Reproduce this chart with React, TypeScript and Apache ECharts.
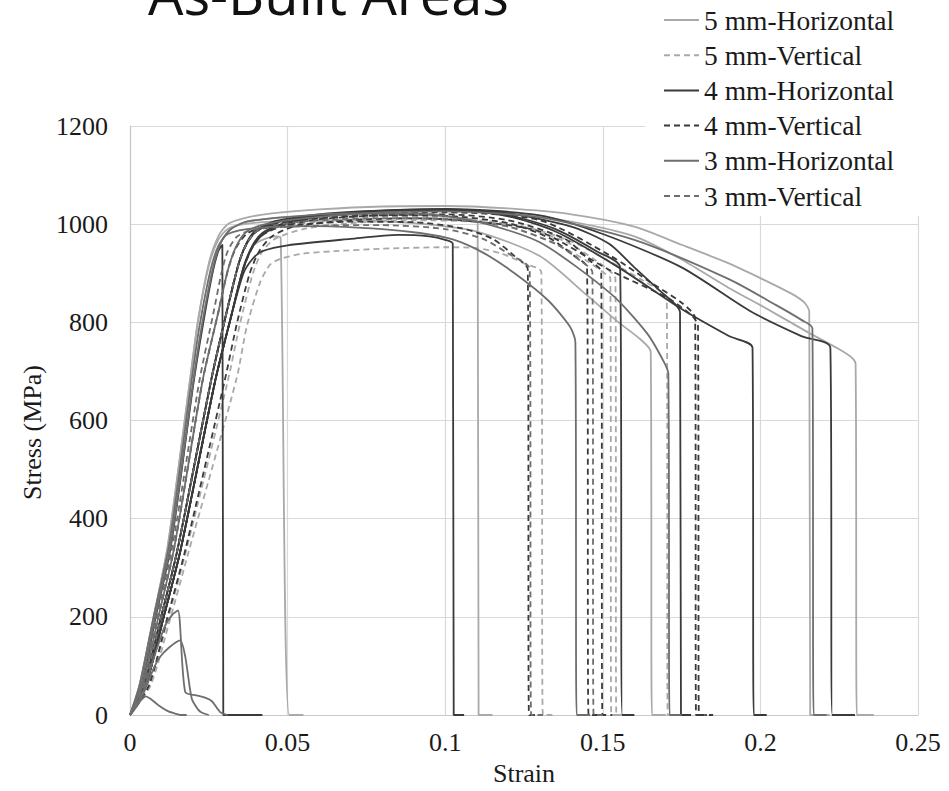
import React, { useEffect, useRef } from "react";
import * as echarts from "echarts";

// ---------- data (strain, stress MPa) ----------
const groupNames = [
  "5 mm-Horizontal",
  "5 mm-Vertical",
  "4 mm-Horizontal",
  "4 mm-Vertical",
  "3 mm-Horizontal",
  "3 mm-Vertical",
];
const xTickValues = [0, 0.05, 0.1, 0.15, 0.2, 0.25];
const yTickValues = [0, 200, 400, 600, 800, 1000, 1200];

// 5 mm-Horizontal
const h5a = [[0,0],[0.003,60],[0.0075,200],[0.012,345],[0.019,680],[0.0215,800],[0.025,920],[0.028,975],[0.031,1000],[0.036,1012],[0.045,1022],[0.06,1030],[0.08,1036],[0.1,1037],[0.12,1032],[0.14,1020],[0.16,995],[0.175,958],[0.19,920],[0.2,890],[0.21,858],[0.214,840],[0.2155,822],[0.2158,0],[0.222,0]];
const h5b = [[0,0],[0.0045,60],[0.0095,190],[0.015,335],[0.026,690],[0.031,830],[0.0345,920],[0.037,960],[0.04,985],[0.046,1003],[0.06,1018],[0.08,1026],[0.1,1028],[0.12,1022],[0.14,1005],[0.16,975],[0.175,928],[0.19,870],[0.2,835],[0.215,780],[0.225,745],[0.229,728],[0.2302,715],[0.2306,0],[0.236,0]];
const h5c = [[0,0],[0.0035,60],[0.008,200],[0.013,350],[0.02,675],[0.023,800],[0.0265,915],[0.029,965],[0.032,990],[0.037,1005],[0.045,1012],[0.06,1018],[0.08,1020],[0.1,1016],[0.108,1010],[0.1103,1005],[0.1106,0],[0.115,0]];
const h5d = [[0,0],[0.005,60],[0.0105,195],[0.016,335],[0.027,680],[0.032,810],[0.036,910],[0.039,955],[0.042,968],[0.0465,975],[0.0478,972],[0.0505,0],[0.055,0]];
const h5e = [[0,0],[0.003,60],[0.0075,200],[0.012,345],[0.019,680],[0.0215,800],[0.025,915],[0.028,968],[0.031,990],[0.036,1000],[0.045,1005],[0.07,1008],[0.09,1002],[0.11,985],[0.13,935],[0.145,855],[0.155,800],[0.162,765],[0.1652,740],[0.1656,0],[0.17,0]];

// 5 mm-Vertical
const v5a = [[0,0],[0.0065,60],[0.0125,190],[0.0185,330],[0.0338,685],[0.037,790],[0.0412,880],[0.0445,918],[0.048,930],[0.055,940],[0.065,945],[0.08,950],[0.1,953],[0.11,951],[0.118,940],[0.125,920],[0.1305,902],[0.131,0],[0.134,0]];
const v5b = [[0,0],[0.006,60],[0.012,195],[0.018,340],[0.031,680],[0.035,800],[0.039,900],[0.042,945],[0.046,970],[0.055,990],[0.07,1002],[0.09,1008],[0.11,1005],[0.125,995],[0.14,965],[0.152,925],[0.162,888],[0.168,865],[0.1703,850],[0.1706,0],[0.175,0]];
const v5c = [[0,0],[0.0045,60],[0.0095,190],[0.015,335],[0.026,690],[0.031,830],[0.0345,920],[0.037,960],[0.04,985],[0.046,1000],[0.06,1010],[0.08,1015],[0.1,1012],[0.12,995],[0.135,960],[0.145,925],[0.151,898],[0.1524,890],[0.1527,0],[0.156,0]];
const v5d = [[0,0],[0.005,60],[0.0105,195],[0.016,335],[0.027,680],[0.032,810],[0.036,910],[0.039,955],[0.042,978],[0.048,995],[0.06,1005],[0.08,1012],[0.1,1012],[0.12,1000],[0.138,965],[0.148,925],[0.153,900],[0.154,890],[0.1543,0],[0.158,0]];

// 4 mm-Horizontal
const h4a = [[0,0],[0.0035,55],[0.008,195],[0.013,345],[0.02,670],[0.023,790],[0.026,895],[0.028,945],[0.0293,958],[0.0296,0],[0.042,0]];
const h4b = [[0,0],[0.005,60],[0.0105,195],[0.016,335],[0.027,680],[0.032,810],[0.036,900],[0.039,930],[0.042,945],[0.05,957],[0.07,970],[0.085,978],[0.095,975],[0.1,968],[0.1024,960],[0.1027,0],[0.106,0]];
const h4c = [[0,0],[0.0045,60],[0.0095,190],[0.015,335],[0.026,690],[0.031,830],[0.0345,920],[0.037,960],[0.04,985],[0.046,1003],[0.06,1018],[0.08,1026],[0.1,1028],[0.12,1018],[0.135,990],[0.148,945],[0.1555,912],[0.1562,0],[0.16,0]];
const h4d = [[0,0],[0.005,60],[0.0105,195],[0.016,335],[0.027,680],[0.032,810],[0.036,910],[0.039,955],[0.042,978],[0.048,998],[0.06,1015],[0.08,1026],[0.1,1030],[0.12,1022],[0.14,995],[0.152,960],[0.16,912],[0.168,865],[0.1728,838],[0.1745,820],[0.1748,0],[0.178,0]];
const h4e = [[0,0],[0.0045,60],[0.0095,190],[0.015,335],[0.026,690],[0.031,830],[0.0345,920],[0.037,962],[0.04,988],[0.046,1006],[0.06,1020],[0.08,1028],[0.1,1030],[0.12,1016],[0.135,985],[0.155,912],[0.175,827],[0.19,772],[0.1975,748],[0.1979,0],[0.202,0]];
const h4f = [[0,0],[0.005,60],[0.0105,195],[0.016,335],[0.027,680],[0.032,810],[0.036,912],[0.039,958],[0.042,982],[0.048,1000],[0.06,1018],[0.08,1027],[0.1,1031],[0.13,1018],[0.15,980],[0.175,912],[0.197,822],[0.213,772],[0.2222,748],[0.2228,0],[0.23,0]];

// 4 mm-Vertical
const v4a = [[0,0],[0.004,60],[0.009,200],[0.014,340],[0.023,680],[0.028,820],[0.031,905],[0.0335,950],[0.037,980],[0.043,995],[0.055,1000],[0.07,1005],[0.09,1004],[0.105,992],[0.115,970],[0.122,935],[0.1262,908],[0.1266,0],[0.13,0]];
const v4b = [[0,0],[0.0045,60],[0.0095,190],[0.015,335],[0.026,690],[0.031,830],[0.0345,920],[0.037,960],[0.04,985],[0.046,1000],[0.06,1012],[0.08,1018],[0.1,1017],[0.12,1002],[0.133,972],[0.141,935],[0.145,912],[0.1455,0],[0.149,0]];
const v4c = [[0,0],[0.005,60],[0.0105,195],[0.016,335],[0.027,680],[0.032,810],[0.036,910],[0.039,955],[0.042,978],[0.048,995],[0.06,1010],[0.08,1018],[0.1,1020],[0.12,1008],[0.138,970],[0.146,925],[0.1495,903],[0.1499,0],[0.153,0]];
const v4d = [[0,0],[0.0045,60],[0.0095,190],[0.015,335],[0.026,690],[0.031,830],[0.0345,920],[0.037,960],[0.04,985],[0.046,1002],[0.06,1015],[0.08,1022],[0.1,1024],[0.13,1008],[0.1526,935],[0.165,882],[0.175,840],[0.1793,808],[0.1796,0],[0.183,0]];
const v4e = [[0,0],[0.006,60],[0.0115,190],[0.0175,335],[0.03,680],[0.034,800],[0.038,900],[0.041,945],[0.045,975],[0.052,995],[0.07,1008],[0.09,1012],[0.11,1005],[0.13,985],[0.1526,905],[0.1705,850],[0.1785,812],[0.1802,792],[0.1805,0],[0.185,0]];

// 3 mm-Horizontal
const h3a = [[0,0],[0.003,60],[0.0075,200],[0.0125,350],[0.0195,680],[0.022,790],[0.0255,905],[0.028,955],[0.031,980],[0.04,992],[0.06,996],[0.08,990],[0.092,982],[0.1024,969],[0.112,942],[0.122,900],[0.1326,845],[0.1395,792],[0.1413,760],[0.1417,0],[0.146,0]];
const h3b = [[0,0],[0.0035,60],[0.008,200],[0.013,350],[0.02,675],[0.023,800],[0.0265,915],[0.029,965],[0.032,990],[0.037,1005],[0.05,1015],[0.07,1022],[0.09,1022],[0.11,1005],[0.13,963],[0.1526,858],[0.164,778],[0.1695,718],[0.1708,695],[0.1712,0],[0.175,0]];
const h3c = [[0,0],[0.004,60],[0.009,200],[0.014,340],[0.023,680],[0.028,820],[0.031,905],[0.0335,952],[0.037,985],[0.043,1000],[0.055,1012],[0.08,1024],[0.1,1026],[0.13,1014],[0.16,968],[0.19,888],[0.205,835],[0.213,805],[0.2165,788],[0.2169,0],[0.221,0]];
const h3d = [[0,0],[0.0015,12],[0.0035,30],[0.005,38],[0.0065,33],[0.009,20],[0.012,8],[0.0143,3],[0.016,0],[0.018,0]];
const h3e = [[0,0],[0.004,40],[0.0075,95],[0.0095,118],[0.0125,138],[0.0159,152],[0.0175,120],[0.0196,33],[0.0215,12],[0.0227,5],[0.025,0]];
const h3f = [[0,0],[0.004,45],[0.0075,115],[0.011,180],[0.0135,205],[0.0152,213],[0.0175,47],[0.021,40],[0.024,35],[0.026,28],[0.0286,6],[0.031,0]];

// 3 mm-Vertical
const v3a = [[0,0],[0.004,60],[0.0085,200],[0.0135,345],[0.022,680],[0.0265,820],[0.029,900],[0.031,945],[0.034,975],[0.04,990],[0.06,997],[0.08,998],[0.1,990],[0.112,970],[0.12,940],[0.1268,908],[0.1273,0],[0.131,0]];
const v3b = [[0,0],[0.0045,60],[0.0095,190],[0.015,335],[0.026,690],[0.031,830],[0.0345,920],[0.037,960],[0.04,985],[0.046,998],[0.06,1008],[0.08,1012],[0.1,1010],[0.12,995],[0.135,960],[0.143,925],[0.1467,902],[0.1471,0],[0.15,0]];

const groupCurves = [
  [h5a, h5b, h5c, h5d, h5e],
  [v5a, v5b, v5c, v5d],
  [h4a, h4b, h4c, h4d, h4e, h4f],
  [v4a, v4b, v4c, v4d, v4e],
  [h3a, h3b, h3c, h3d, h3e, h3f],
  [v3a, v3b],
];

// ---------- styling ----------
const groupColors = ["#a9a9a9", "#a9a9a9", "#3a3a3a", "#3a3a3a", "#6e6e6e", "#6e6e6e"];
const groupDashed = [false, true, false, true, false, true];

export default function App() {
  const ref = useRef<HTMLDivElement>(null);

  useEffect(() => {
    if (!ref.current) return;
    const chart = echarts.init(ref.current, undefined, { renderer: "svg" });

    const series: any[] = [];
    groupCurves.forEach((curves, gi) => {
      curves.forEach((data) => {
        series.push({
          type: "line",
          name: groupNames[gi],
          data,
          showSymbol: false,
          symbol: "none",
          smooth: 0.25,
          clip: true,
          lineStyle: {
            color: groupColors[gi],
            width: 1.8,
            type: groupDashed[gi] ? [6, 4] : "solid",
          },
          itemStyle: { color: groupColors[gi] },
          emphasis: { disabled: true },
        });
      });
    });

    const serifFont = "'Liberation Serif', 'Times New Roman', serif";

    chart.setOption({
      animation: false,
      backgroundColor: "#ffffff",
      grid: { left: 130, right: 31, top: 126, bottom: 73, containLabel: false },
      legend: {
        data: groupNames,
        orient: "vertical",
        left: 645,
        top: 0,
        padding: [6, 60, 6, 18],
        backgroundColor: "#ffffff",
        itemWidth: 35,
        itemHeight: 14,
        itemGap: 7.2,
        selectedMode: false,
        itemStyle: { opacity: 0, color: "transparent", borderColor: "transparent", borderWidth: 0 },
        textStyle: { fontFamily: serifFont, fontSize: 27.5, color: "#1a1a1a" },
        z: 10,
      },
      graphic: [
        {
          type: "text",
          x: 148,
          y: -7,
          z: 20,
          style: {
            text: "As-Built Areas",
            fontFamily: "'Open Sans', sans-serif",
            fontSize: 56,
            fill: "#111111",
            align: "left",
            verticalAlign: "middle",
          },
        },
      ],
      xAxis: {
        type: "value",
        min: xTickValues[0],
        max: xTickValues[xTickValues.length - 1],
        interval: 0.05,
        name: "Strain",
        nameLocation: "middle",
        nameGap: 45,
        nameTextStyle: { fontFamily: serifFont, fontSize: 26, color: "#1a1a1a" },
        axisLine: { show: true, lineStyle: { color: "#c8c8c8", width: 1.2 } },
        axisTick: { show: false },
        axisLabel: {
          fontFamily: serifFont,
          fontSize: 26,
          color: "#1a1a1a",
          margin: 14,
          formatter: (v: number) => String(Math.round(v * 100) / 100),
        },
        splitLine: { show: true, lineStyle: { color: "#d9d9d9", width: 1.2 } },
      },
      yAxis: {
        type: "value",
        min: yTickValues[0],
        max: yTickValues[yTickValues.length - 1],
        interval: 200,
        name: "Stress (MPa)",
        nameLocation: "middle",
        nameGap: 80,
        nameTextStyle: {
          fontFamily: serifFont,
          fontSize: 26,
          color: "#1a1a1a",
          padding: [0, 24, 0, 0],
        },
        axisLine: { show: true, lineStyle: { color: "#c8c8c8", width: 1.2 } },
        axisTick: { show: false },
        axisLabel: {
          fontFamily: serifFont,
          fontSize: 26,
          color: "#1a1a1a",
          margin: 22,
          formatter: (v: number) => String(v),
        },
        splitLine: { show: true, lineStyle: { color: "#d9d9d9", width: 1.2 } },
      },
      series,
    });

    return () => chart.dispose();
  }, []);

  return (
    <div
      ref={ref}
      style={{ position: "fixed", left: 0, top: 0, width: 949, height: 791, background: "#fff" }}
    />
  );
}
